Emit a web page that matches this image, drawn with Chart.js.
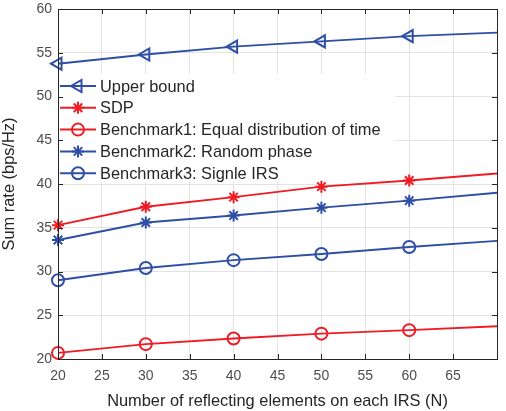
<!DOCTYPE html>
<html>
<head>
<meta charset="utf-8">
<script src="https://cdn.jsdelivr.net/npm/chart.js@4.4.1/dist/chart.umd.min.js"></script>
<style>
  html, body { margin: 0; padding: 0; background: #fff; }
  #wrap { width: 506px; height: 411px; }
</style>
</head>
<body>
<div id="wrap"><canvas id="myChart" width="506" height="411"></canvas></div>
<script>
// данные с графика
var xValues = [20, 30, 40, 50, 60, 70];
var upperBound = [53.75, 54.8, 55.7, 56.3, 56.9, 57.3];
var sdp = [35.3, 37.4, 38.5, 39.7, 40.4, 41.2];
var bench1 = [20.7, 21.7, 22.35, 22.9, 23.3, 23.75];
var bench2 = [33.6, 35.6, 36.4, 37.3, 38.1, 39.0];
var bench3 = [29.0, 30.4, 31.3, 32.0, 32.8, 33.5];
var labels = [
  "Upper bound",
  "SDP",
  "Benchmark1: Equal distribution of time",
  "Benchmark2: Random phase",
  "Benchmark3: Signle IRS",
];
var xTicks = [20, 25, 30, 35, 40, 45, 50, 55, 60, 65, 70];
var yTicks = [20, 25, 30, 35, 40, 45, 50, 55, 60];

var blue = "#2f4fa6";
var red = "#ee1c25";
var font = "'Liberation Sans', Arial, sans-serif";

function pts(arr) {
  return arr.map(function (v, i) { return { x: xValues[i], y: v }; });
}
function radii(r) {
  return xValues.map(function (x) { return x === 70 ? 0 : r; });
}

var series = [
  { label: labels[0], data: upperBound, color: blue, style: "triangle", rot: -90, r: 7 },
  { label: labels[1], data: sdp, color: red, style: "star", rot: 0, r: 6 },
  { label: labels[2], data: bench1, color: red, style: "circle", rot: 0, r: 6 },
  { label: labels[3], data: bench2, color: blue, style: "star", rot: 0, r: 6 },
  { label: labels[4], data: bench3, color: blue, style: "circle", rot: 0, r: 6 },
];

var datasets = series.map(function (s) {
  return {
    label: s.label,
    data: pts(s.data),
    borderColor: s.color,
    backgroundColor: "rgba(0,0,0,0)",
    borderWidth: 2,
    pointStyle: s.style,
    rotation: s.rot,
    pointRadius: radii(s.r),
    pointBorderWidth: 2,
    pointBorderColor: s.color,
    pointBackgroundColor: "rgba(0,0,0,0)",
    tension: 0,
    clip: false,
  };
});

// рамка, засечки внутрь и легенда как в MATLAB
var matlabBox = {
  id: "matlabBox",
  beforeDatasetsDraw: function (chart) {
    var ctx = chart.ctx;
    var a = chart.chartArea;
    ctx.save();
    ctx.fillStyle = "#ffffff";
    ctx.fillRect(a.left + 1, 74, 336, 108); // фон легенды
    ctx.restore();
  },
  afterDraw: function (chart) {
    var ctx = chart.ctx;
    var a = chart.chartArea;
    var xs = chart.scales.x, ys = chart.scales.y;
    ctx.save();
    ctx.strokeStyle = "#262626";
    ctx.lineWidth = 1;
    ctx.beginPath();
    xTicks.forEach(function (t) {
      var px = Math.round(xs.getPixelForValue(t)) + 0.5;
      ctx.moveTo(px, a.bottom); ctx.lineTo(px, a.bottom - 5);
      ctx.moveTo(px, a.top); ctx.lineTo(px, a.top + 5);
    });
    yTicks.forEach(function (t) {
      var py = Math.round(ys.getPixelForValue(t)) + 0.5;
      ctx.moveTo(a.left, py); ctx.lineTo(a.left + 5, py);
      ctx.moveTo(a.right, py); ctx.lineTo(a.right - 5, py);
    });
    ctx.stroke();
    ctx.strokeStyle = "#262626";
    ctx.strokeRect(Math.round(a.left) + 0.5, Math.round(a.top) + 0.5,
      Math.round(a.right - a.left), Math.round(a.bottom - a.top));

    // легенда
    ctx.font = "16.4px " + font;
    ctx.textBaseline = "middle";
    series.forEach(function (s, i) {
      var y = 86 + i * 21.8;
      ctx.strokeStyle = s.color;
      ctx.lineWidth = 2;
      ctx.beginPath();
      ctx.moveTo(60, y); ctx.lineTo(96, y);
      ctx.stroke();
      ctx.fillStyle = "rgba(0,0,0,0)";
      Chart.helpers.drawPoint(ctx, {
        pointStyle: s.style, rotation: s.rot, radius: s.r, borderWidth: 2,
      }, 78, y);
      ctx.fillStyle = "#262626";
      ctx.fillText(s.label, 100, y + 1);
    });
    ctx.restore();
  },
};

new Chart("myChart", {
  type: "line",
  data: { datasets: datasets },
  options: {
    responsive: false,
    animation: false,
    maintainAspectRatio: false,
    layout: { padding: { left: 0, right: 4, top: -2, bottom: 0 } },
    plugins: {
      legend: false,
      tooltip: { enabled: false },
    },
    scales: {
      x: {
        type: "linear",
        min: 20,
        max: 70,
        afterBuildTicks: function (s) {
          s.ticks = xTicks.map(function (v) { return { value: v }; });
        },
        afterFit: function (s) { s.height = 52; },
        grid: { color: "#e3e3e3", drawTicks: false, lineWidth: 1 },
        border: { display: false },
        ticks: {
          padding: 9,
          color: "#4d4d4d",
          font: { family: font, size: 14 },
          maxRotation: 0,
          callback: function (v) { return v === 70 ? "" : v; },
        },
        title: {
          display: true,
          text: "Number of reflecting elements on each IRS (N)",
          color: "#262626",
          font: { family: font, size: 16.4 },
          padding: { top: 0, bottom: 0 },
        },
      },
      y: {
        min: 20,
        max: 60,
        afterBuildTicks: function (s) {
          s.ticks = yTicks.map(function (v) { return { value: v }; });
        },
        afterFit: function (s) { s.width = 58; s.paddingTop = 0; },
        grid: { color: "#e3e3e3", drawTicks: false, lineWidth: 1 },
        border: { display: false },
        ticks: {
          padding: 6,
          color: "#4d4d4d",
          font: { family: font, size: 14 },
        },
        title: {
          display: true,
          text: "Sum rate (bps/Hz)",
          color: "#262626",
          font: { family: font, size: 16.4 },
          padding: { top: 0, bottom: 2 },
        },
      },
    },
  },
  plugins: [matlabBox],
});
</script>
</body>
</html>
